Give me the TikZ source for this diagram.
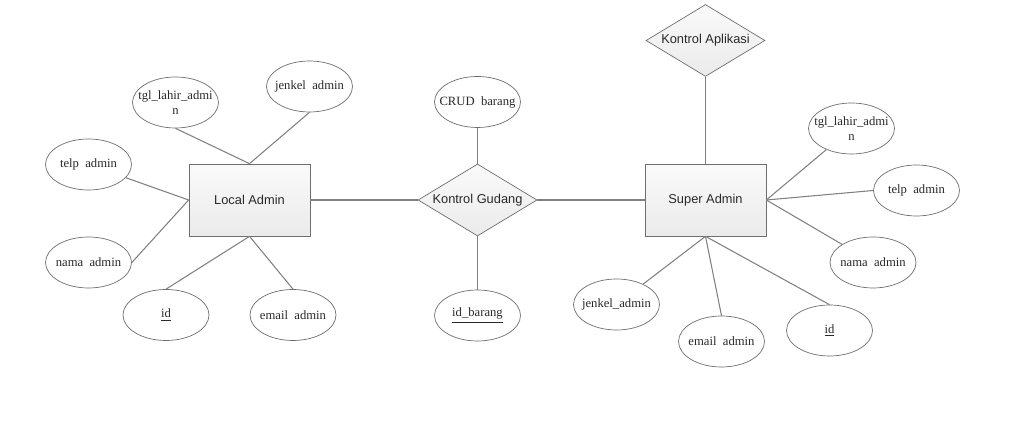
\documentclass[tikz,border=0pt]{standalone}
\usepackage{fontspec}
\setmainfont{Liberation Serif}
\setsansfont{Liberation Sans}
\usepackage{tikz}
\usetikzlibrary{shapes.geometric, positioning}
\definecolor{erline}{RGB}{128, 128, 128}
\definecolor{erdraw}{RGB}{110, 110, 110}
\definecolor{ertext}{RGB}{40, 40, 40}

\begin{document}
\begin{tikzpicture}[x=0.02cm, y=-0.02cm,
  entity/.style={rectangle, draw=erdraw, top color=gray!4, bottom color=gray!16,
    minimum width=2.42cm, minimum height=1.44cm, inner sep=0pt,
    font=\sffamily\fontsize{7.3}{8.5}\selectfont, text=ertext},
  relation/.style={diamond, draw=erdraw, top color=gray!4, bottom color=gray!16,
    aspect=1.65, minimum width=2.38cm, minimum height=1.44cm, inner sep=0pt,
    font=\sffamily\fontsize{7.3}{8.5}\selectfont, text=ertext},
  attr/.style={ellipse, draw=erdraw, fill=white, minimum width=1.72cm,
    minimum height=1.02cm, inner xsep=-20pt, inner ysep=0pt, align=center,
    font=\fontsize{7.2}{8.2}\selectfont, text=ertext},
  link/.style={draw=erline, semithick}
]
  \useasboundingbox (0,0) rectangle (1011,421);

  \node[entity] (localadmin) at (249.5,200) {Local Admin};
  \node[relation] (gudang) at (477.5,200) {Kontrol Gudang};
  \node[entity] (superadmin) at (705.5,200) {Super Admin};
  \node[relation] (aplikasi) at (705.5,40.5) {Kontrol Aplikasi};

  \node[attr] (latgl) at (175.5,102.5) {tgl\_lahir\_admi\\n};
  \node[attr] (lajenkel) at (309.5,86.5) {jenkel~~admin};
  \node[attr] (latelp) at (88.5,164.5) {telp~~admin};
  \node[attr] (lanama) at (88.5,262.5) {nama~~admin};
  \node[attr] (laid) at (166,315) {\underline{id}};
  \node[attr] (laemail) at (293,315) {email~~admin};

  \node[attr] (crud) at (477.5,102) {CRUD~~barang};
  \node[attr] (idbarang) at (477.5,315.5) {\underline{id\_barang}};

  \node[attr] (satgl) at (851.5,128.5) {tgl\_lahir\_admi\\n};
  \node[attr] (satelp) at (916.5,190.5) {telp~~admin};
  \node[attr] (sanama) at (873,262.5) {nama~~admin};
  \node[attr] (said) at (829.5,330.5) {\underline{id}};
  \node[attr] (saemail) at (721.5,341.5) {email~~admin};
  \node[attr] (sajenkel) at (616.5,304.5) {jenkel\_admin};

  \draw[link] (localadmin) -- (gudang);
  \draw[link] (gudang) -- (superadmin);
  \draw[link] (crud) -- (gudang);
  \draw[link] (gudang) -- (idbarang);
  \draw[link] (aplikasi) -- (superadmin);

  \draw[link] (latgl.south) -- (localadmin.north);
  \draw[link] (lajenkel.south) -- (localadmin.north);
  \draw[link] (latelp) -- (localadmin.west);
  \draw[link] (lanama.east) -- (localadmin.west);
  \draw[link] (laid.north) -- (localadmin.south);
  \draw[link] (laemail.north) -- (localadmin.south);

  \draw[link] (satgl) -- (superadmin.east);
  \draw[link] (satelp.west) -- (superadmin.east);
  \draw[link] (sanama) -- (superadmin.east);
  \draw[link] (said.north) -- (superadmin.south);
  \draw[link] (saemail.north) -- (superadmin.south);
  \draw[link] (sajenkel) -- (superadmin.south);
\end{tikzpicture}
\end{document}
